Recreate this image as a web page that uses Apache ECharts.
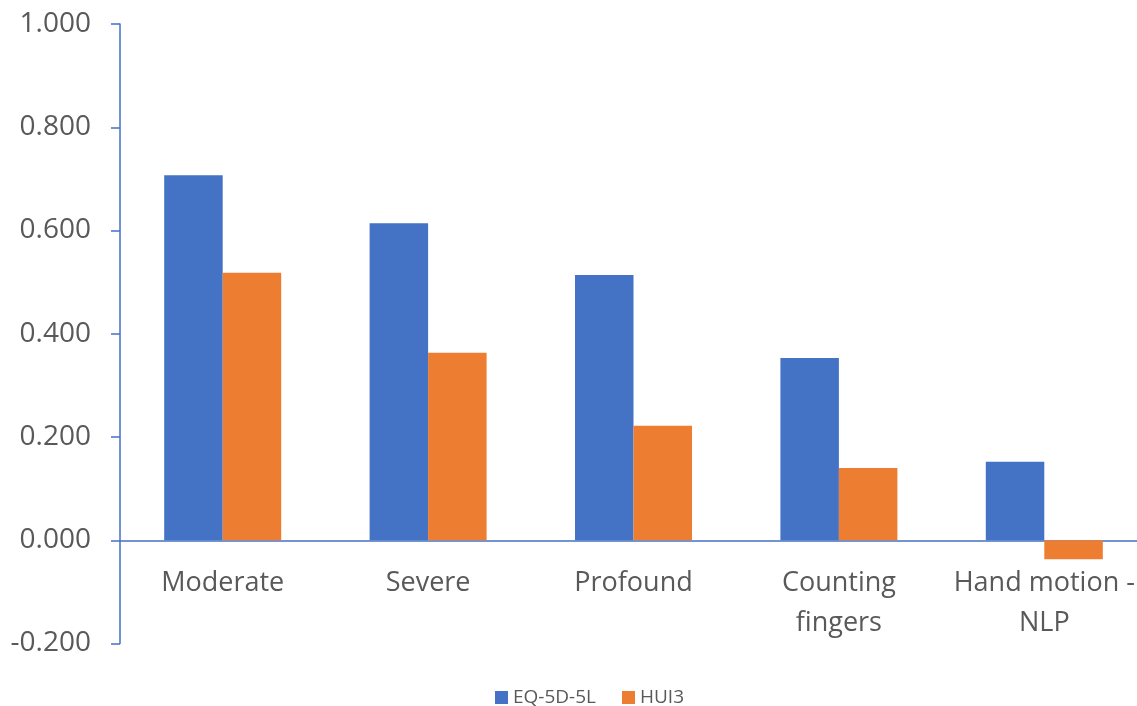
<!DOCTYPE html>
<html>
<head>
<meta charset="utf-8">
<script src="https://cdn.jsdelivr.net/npm/echarts@6/dist/echarts.min.js"></script>
<style>
  html, body { margin: 0; padding: 0; background: #fff; }
  #chart { width: 1137px; height: 706px; }
</style>
</head>
<body>
<div id="chart"></div>
<script>
// Utility scores by level of visual impairment
const categories = ['Moderate', 'Severe', 'Profound', 'Counting\nfingers', 'Hand motion -\nNLP'];
const eq5d5l = [0.707, 0.614, 0.514, 0.353, 0.152];
const hui3 = [0.518, 0.363, 0.222, 0.140, -0.037];
const seriesNames = ['EQ-5D-5L', 'HUI3'];
const yMin = -0.2, yMax = 1.0, yStep = 0.2;

const axisBlue = '#4472C4';
const textGray = '#595959';
const font = 'Open Sans';

// plot area geometry
const gridTop = 24, gridHeight = 619.5;
// lift the category axis so it sits on the zero value
const zeroOffset = -gridHeight * (0 - yMin) / (yMax - yMin);

const chart = echarts.init(document.getElementById('chart'), null, { renderer: 'canvas' });
chart.setOption({
  animation: false,
  color: ['#4472C4', '#ED7D31'],
  grid: { left: 120, top: gridTop, width: 1027, height: gridHeight, containLabel: false, outerBoundsMode: 'none' },
  legend: {
    data: seriesNames,
    left: 490,
    top: 683,
    itemWidth: 13,
    itemHeight: 13,
    itemGap: 26,
    icon: 'rect',
    textStyle: { color: textGray, fontSize: 19, fontFamily: font }
  },
  xAxis: {
    type: 'category',
    data: categories,
    position: 'bottom',
    offset: zeroOffset,
    axisLine: { onZero: false, lineStyle: { color: axisBlue, width: 1.5 } },
    axisTick: { show: false },
    axisLabel: { color: textGray, fontSize: 27, fontFamily: font, margin: 23, lineHeight: 40, interval: 0 }
  },
  yAxis: {
    type: 'value',
    min: yMin,
    max: yMax,
    interval: yStep,
    splitLine: { show: false },
    axisLine: { show: true, lineStyle: { color: axisBlue, width: 1.5 } },
    axisTick: { show: true, length: 9, lineStyle: { color: axisBlue, width: 1.5 } },
    axisLabel: {
      color: textGray, fontSize: 28, fontFamily: font, margin: 29,
      formatter: v => v.toFixed(3)
    }
  },
  series: [
    { name: seriesNames[0], type: 'bar', data: eq5d5l, barWidth: 58.5, barGap: '0%' },
    { name: seriesNames[1], type: 'bar', data: hui3, barWidth: 58.5, barGap: '0%' }
  ]
});
</script>
</body>
</html>
